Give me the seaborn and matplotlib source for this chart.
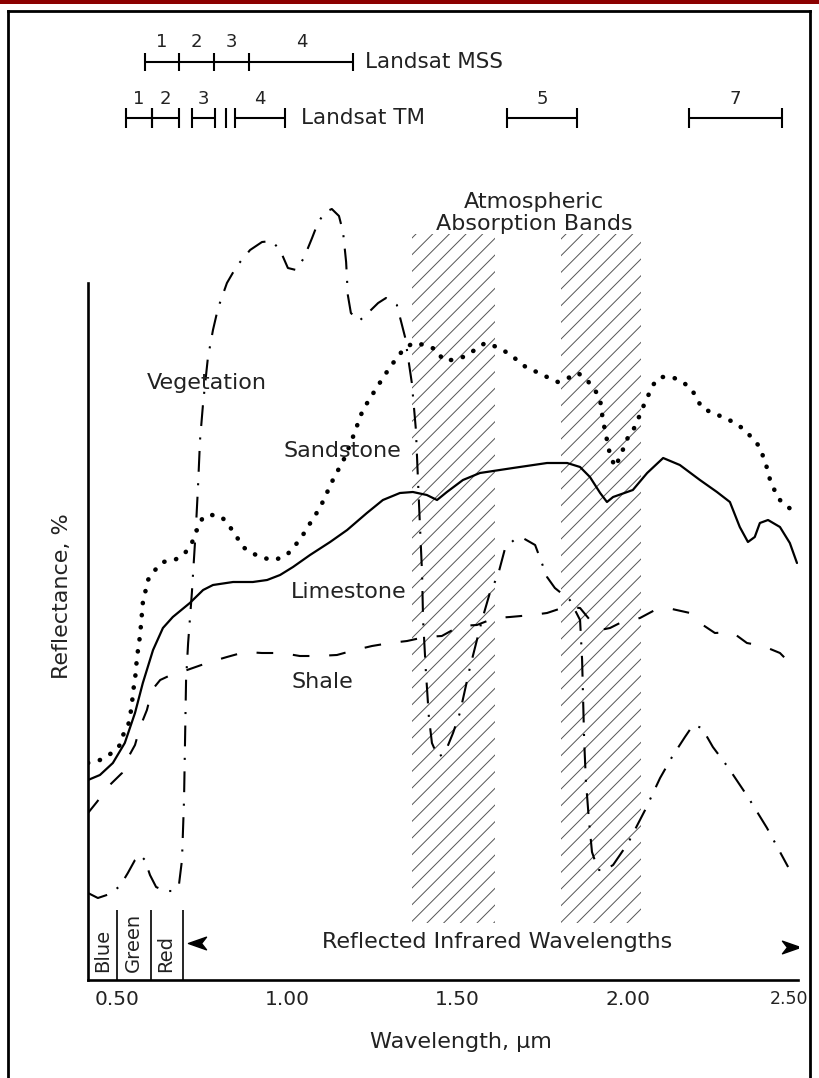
import matplotlib
matplotlib.use("Agg")
import matplotlib.pyplot as plt
import seaborn as sns
from matplotlib.lines import Line2D
from matplotlib.patches import Rectangle
from matplotlib.path import Path
from matplotlib.transforms import ScaledTranslation

# spectral reflectance curves, wavelength in um, reflectance in %
veg_wl = [0.415, 0.444, 0.479, 0.509, 0.532, 0.553, 0.568, 0.582, 0.597, 0.615, 0.641, 0.664,
          0.682, 0.691, 0.697, 0.700, 0.703, 0.709, 0.720, 0.732, 0.738, 0.744, 0.753, 0.767,
          0.782, 0.797, 0.823, 0.852, 0.891, 0.926, 0.955, 0.979, 1.002, 1.026, 1.049, 1.073,
          1.090, 1.111, 1.131, 1.152, 1.164, 1.173, 1.178, 1.187, 1.211, 1.237, 1.267, 1.290,
          1.322, 1.346, 1.366, 1.378, 1.384, 1.390, 1.396, 1.399, 1.407, 1.416, 1.425, 1.443,
          1.463, 1.487, 1.507, 1.537, 1.572, 1.595, 1.619, 1.640, 1.666, 1.692, 1.728, 1.763,
          1.786, 1.830, 1.860, 1.866, 1.869, 1.872, 1.877, 1.886, 1.895, 1.913, 1.933, 1.957,
          2.001, 2.051, 2.095, 2.130, 2.168, 2.192, 2.218, 2.250, 2.294, 2.353, 2.409, 2.471]
veg_refl = [8.7, 8.2, 8.6, 9.4, 10.7, 12.0, 12.5, 12.0, 10.5, 9.3, 8.9, 8.9,
            9.5, 12.0, 18.0, 24.0, 30.0, 33.7, 38.7, 45.3, 49.3, 54.0, 57.7, 62.2,
            65.0, 67.2, 69.7, 71.4, 73.0, 73.8, 73.9, 73.0, 71.2, 71.0, 72.2, 74.2,
            75.7, 76.8, 77.1, 76.4, 74.8, 71.8, 68.5, 66.7, 65.9, 66.7, 67.7, 68.2,
            67.5, 64.3, 59.7, 55.0, 50.0, 45.3, 40.7, 36.0, 31.0, 26.3, 23.7, 22.3,
            22.7, 24.7, 26.7, 31.3, 36.0, 38.7, 40.5, 43.2, 44.0, 44.2, 43.5, 40.3,
            39.2, 38.0, 36.0, 32.0, 28.0, 24.0, 20.0, 16.0, 12.8, 11.0, 11.0, 11.5,
            13.7, 17.0, 20.2, 22.3, 24.3, 25.5, 25.2, 23.3, 21.3, 18.3, 15.2, 11.3]

sand_wl = [0.415, 0.450, 0.485, 0.509, 0.518, 0.532, 0.538, 0.544, 0.547, 0.553, 0.559, 0.568,
           0.576, 0.591, 0.612, 0.635, 0.670, 0.700, 0.720, 0.738, 0.753, 0.779, 0.808, 0.832,
           0.852, 0.870, 0.896, 0.929, 0.964, 0.999, 1.029, 1.052, 1.073, 1.096, 1.134, 1.170,
           1.193, 1.222, 1.264, 1.302, 1.340, 1.369, 1.405, 1.440, 1.457, 1.484, 1.516, 1.551,
           1.581, 1.616, 1.648, 1.675, 1.704, 1.733, 1.763, 1.795, 1.825, 1.854, 1.880, 1.904,
           1.919, 1.927, 1.939, 1.948, 1.963, 1.977, 2.001, 2.021, 2.045, 2.074, 2.095, 2.130,
           2.162, 2.189, 2.218, 2.250, 2.286, 2.315, 2.344, 2.365, 2.388, 2.409, 2.418, 2.441,
           2.462, 2.491]
sand_refl = [21.7, 22.0, 22.7, 23.5, 24.5, 25.3, 26.3, 27.5, 28.8, 30.0, 32.3, 34.5,
             37.7, 40.0, 41.0, 41.8, 42.0, 42.7, 43.7, 45.3, 46.3, 46.5, 46.3, 45.3,
             44.3, 43.3, 42.7, 42.2, 42.0, 42.5, 43.7, 44.8, 46.0, 47.2, 50.0, 52.3,
             54.3, 57.0, 59.3, 61.3, 63.0, 63.7, 63.5, 63.0, 62.0, 62.0, 62.3, 63.0,
             63.7, 63.3, 62.7, 62.0, 61.2, 60.8, 60.3, 59.8, 60.2, 60.7, 60.0, 59.0,
             58.0, 56.0, 54.0, 52.5, 51.3, 52.3, 54.3, 55.3, 57.3, 59.5, 60.3, 60.3,
             59.8, 59.0, 57.2, 56.7, 56.2, 55.7, 55.0, 54.2, 53.3, 51.2, 50.0, 48.2,
             47.5, 46.8]

lime_wl = [0.415, 0.450, 0.488, 0.523, 0.553, 0.576, 0.606, 0.635, 0.664, 0.714, 0.753, 0.782,
           0.841, 0.899, 0.941, 0.979, 1.017, 1.067, 1.126, 1.176, 1.234, 1.281, 1.331, 1.369,
           1.410, 1.440, 1.469, 1.516, 1.566, 1.663, 1.763, 1.822, 1.860, 1.889, 1.919, 1.939,
           1.957, 2.015, 2.057, 2.104, 2.153, 2.212, 2.262, 2.300, 2.329, 2.353, 2.373, 2.388,
           2.412, 2.447, 2.476, 2.497]
lime_refl = [20.0, 20.5, 21.7, 23.7, 26.7, 29.7, 33.0, 35.2, 36.3, 37.7, 39.0, 39.5,
             39.8, 39.8, 40.0, 40.5, 41.3, 42.5, 43.8, 45.0, 46.7, 48.0, 48.7, 48.8,
             48.5, 48.0, 48.8, 50.0, 50.7, 51.2, 51.7, 51.7, 51.3, 50.3, 48.7, 47.8,
             48.3, 49.0, 50.7, 52.2, 51.5, 50.0, 48.8, 47.8, 45.3, 43.8, 44.3, 45.7,
             46.0, 45.3, 43.7, 41.7]

shale_wl = [0.415, 0.441, 0.479, 0.515, 0.532, 0.553, 0.568, 0.588, 0.603, 0.627, 0.671, 0.706,
            0.773, 0.823, 0.876, 0.926, 0.985, 1.037, 1.090, 1.146, 1.199, 1.249, 1.302, 1.352,
            1.405, 1.454, 1.507, 1.557, 1.610, 1.654, 1.719, 1.763, 1.816, 1.860, 1.889, 1.919,
            1.948, 1.977, 2.036, 2.080, 2.130, 2.183, 2.212, 2.256, 2.306, 2.350, 2.397, 2.447,
            2.476]
shale_refl = [16.7, 17.8, 19.5, 20.7, 22.2, 23.5, 25.3, 27.0, 29.0, 30.0, 30.7, 31.0,
              31.8, 32.3, 32.8, 32.7, 32.7, 32.4, 32.4, 32.5, 33.0, 33.4, 33.7, 33.9,
              34.3, 34.4, 35.4, 35.5, 36.2, 36.3, 36.5, 36.7, 37.3, 37.2, 36.0, 35.0,
              35.2, 35.7, 36.2, 37.0, 37.1, 36.7, 35.7, 34.7, 34.8, 33.7, 33.4, 32.7,
              31.7]

# atmospheric absorption bands (um) and their drawn vertical extent
absorption_bands = [(1.365, 1.61), (1.805, 2.04)]
hatch_bottom, hatch_top = 5.7, 74.6

# sensor bands as drawn above the plot
mss_edges = [0.582, 0.683, 0.785, 0.889, 1.194]
mss_labels = ["1", "2", "3", "4"]
tm_bands = [(0.528, 0.602), (0.602, 0.683), (0.719, 0.788), (0.847, 0.993),
            (1.645, 1.851), (2.180, 2.453)]
tm_labels = ["1", "2", "3", "4", "5", "7"]
tm_stray_ticks = [0.820]

visible_edges = [0.5, 0.6, 0.695]
visible_names = [("Blue", 0.459), ("Green", 0.547), ("Red", 0.644)]

major_ticks = [0.5, 1.0, 1.5, 2.0, 2.5]
major_labels = ["0.50", "1.00", "1.50", "2.00", "2.50"]
minor_ticks = [0.8, 0.9, 1.1, 1.2, 1.3, 1.4, 1.6, 1.7, 1.8, 1.9, 2.1, 2.2, 2.3, 2.4]

sns.set_style("white")
plt.rcParams["font.family"] = ["DejaVu Sans"]
plt.rcParams["hatch.linewidth"] = 0.7
plt.rcParams["hatch.color"] = "#555555"

W, H = 819, 1078
fig = plt.figure(figsize=(W / 100, H / 100), dpi=100)
ax = fig.add_axes([88 / W, 98 / H, 710 / W, 966 / H])
ax.set_xlim(0.415, 2.5)
ax.set_ylim(0, 96.6)

TXT = "#222222"

# hatched absorption bands
for lo, hi in absorption_bands:
    ax.fill_between([lo, hi], hatch_bottom, hatch_top, facecolor="none",
                    edgecolor="#555555", hatch="//", linewidth=0)

# the four curves
styles = [
    (veg_wl, veg_refl, dict(lw=1.5, linestyle=(0, (10, 5.5, 1, 5.5)))),
    (sand_wl, sand_refl, dict(lw=3.3, linestyle=(0, (0.05, 2.6)), dash_capstyle="round")),
    (lime_wl, lime_refl, dict(lw=1.6, linestyle="-")),
    (shale_wl, shale_refl, dict(lw=1.5, linestyle=(0, (8, 9.5)))),
]
for wl, refl, kw in styles:
    sns.lineplot(x=wl, y=refl, ax=ax, color="k", sort=False, estimator=None, **kw)

# curve names
label_kw = dict(fontsize=16, color=TXT, ha="center", va="center")
ax.text(0.764, 59.7, "Vegetation", **label_kw)
ax.text(1.161, 52.9, "Sandstone", **label_kw)
ax.text(1.180, 38.8, "Limestone", **label_kw)
ax.text(1.104, 29.8, "Shale", **label_kw)
ax.text(1.725, 77.8, "Atmospheric", **label_kw)
ax.text(1.725, 75.6, "Absorption Bands", **label_kw)

# visible band dividers + names
ax.vlines(visible_edges, 0, 7.0, color="k", lw=1.2)
for name, x in visible_names:
    ax.text(x, 0.8, name, rotation=90, fontsize=14, color=TXT, ha="center", va="bottom")

ax.text(1.616, 3.8, "Reflected Infrared Wavelengths", fontsize=16, color=TXT,
        ha="center", va="center")
head = Path([(-1, 0), (1, 0.7), (0.45, 0), (1, -0.7), (-1, 0)],
            [Path.MOVETO, Path.LINETO, Path.LINETO, Path.LINETO, Path.CLOSEPOLY])
head_r = Path([(1, 0), (-1, 0.7), (-0.45, 0), (-1, -0.7), (1, 0)],
              [Path.MOVETO, Path.LINETO, Path.LINETO, Path.LINETO, Path.CLOSEPOLY])
ax.plot([0.735], [3.7], marker=head, ms=13, color="k", ls="none")
ax.plot([2.479], [3.35], marker=head_r, ms=13, color="k", ls="none")

# Landsat MSS bands
y_mss = 91.8
ax.hlines(y_mss, mss_edges[0], mss_edges[-1], color="k", lw=1.5)
ax.vlines(mss_edges, y_mss - 0.9, y_mss + 0.9, color="k", lw=1.5)
for lab, lo, hi in zip(mss_labels, mss_edges[:-1], mss_edges[1:]):
    ax.text((lo + hi) / 2, 93.8, lab, fontsize=13, color=TXT, ha="center", va="center")
ax.text(1.228, y_mss, "Landsat MSS", fontsize=15.5, color=TXT, ha="left", va="center")

# Landsat TM bands
y_tm = 86.2
for lab, (lo, hi) in zip(tm_labels, tm_bands):
    ax.hlines(y_tm, lo, hi, color="k", lw=1.5)
    ax.vlines([lo, hi], y_tm - 1.0, y_tm + 1.0, color="k", lw=1.5)
    ax.text((lo + hi) / 2, 88.1, lab, fontsize=13, color=TXT, ha="center", va="center")
ax.vlines(tm_stray_ticks, y_tm - 1.0, y_tm + 1.0, color="k", lw=1.5)
ax.text(1.040, y_tm, "Landsat TM", fontsize=15.5, color=TXT, ha="left", va="center")

# axes
for side in ("top", "right"):
    ax.spines[side].set_visible(False)
ax.spines["left"].set_bounds(0, 69.7)
for side in ("left", "bottom"):
    ax.spines[side].set_linewidth(1.9)
    ax.spines[side].set_color("k")
ax.set_yticks([])
ax.set_xticks(major_ticks)
ax.set_xticklabels(major_labels)
ax.set_xticks(minor_ticks, minor=True)
ax.tick_params(axis="x", which="major", direction="in", length=13, width=1.2,
               pad=7, labelsize=14.5, labelcolor=TXT, color="k")
ax.tick_params(axis="x", which="minor", direction="in", length=6, width=1.2, color="k")
last = ax.get_xticklabels()[-1]
last.set_fontsize(12.5)
last.set_transform(last.get_transform() + ScaledTranslation(-0.09, 0, fig.dpi_scale_trans))
ax.set_xlabel("")
ax.set_ylabel("")

fig.text(461 / W, 1 - 1042 / H, "Wavelength, \u00b5m", fontsize=16, color=TXT,
         ha="center", va="center")
fig.text(62 / W, 1 - 596 / H, "Reflectance, %", fontsize=16, color=TXT,
         ha="center", va="center", rotation=90)

# page frame
fig.add_artist(Rectangle((0, 1 - 4 / H), 1, 4 / H, transform=fig.transFigure,
                         color="#8b0000", lw=0))
frame_kw = dict(transform=fig.transFigure, color="k", lw=2.0, solid_capstyle="projecting")
fig.add_artist(Line2D([8 / W, 8 / W], [0, 1 - 10.5 / H], **frame_kw))
fig.add_artist(Line2D([8 / W, 810 / W], [1 - 10.5 / H, 1 - 10.5 / H], **frame_kw))
fig.add_artist(Line2D([810 / W, 810 / W], [0, 1 - 10.5 / H], **frame_kw))

fig.savefig("out.png", dpi=100, facecolor="white")
